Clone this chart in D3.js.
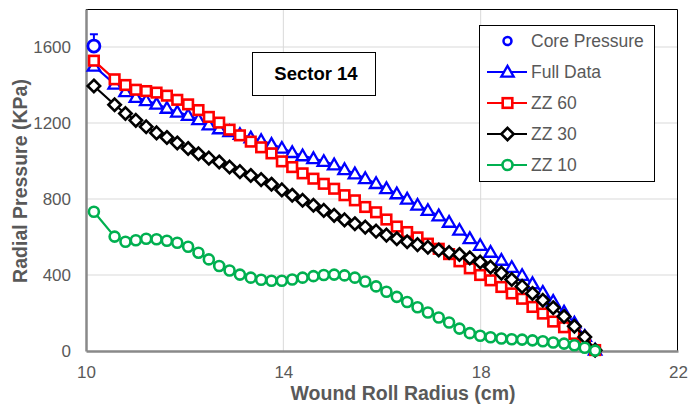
<!DOCTYPE html>
<html><head><meta charset="utf-8">
<script src="https://cdn.jsdelivr.net/npm/d3@7"></script>
<style>body{margin:0;background:#fff}svg{display:block;font-family:"Liberation Sans",Arial,sans-serif}</style>
</head><body>
<script>
const radius = [10.16,10.58,10.80,11.01,11.22,11.43,11.64,11.85,12.07,12.28,12.49,12.70,12.91,13.12,13.34,13.55,13.76,13.97,14.18,14.39,14.61,14.82,15.03,15.24,15.45,15.66,15.88,16.09,16.30,16.51,16.72,16.93,17.15,17.36,17.57,17.78,17.99,18.20,18.42,18.63,18.84,19.05,19.26,19.47,19.69,19.90,20.11,20.32];
const fullData = [1500,1405,1365,1335,1318,1300,1278,1258,1240,1218,1190,1170,1155,1140,1122,1108,1088,1068,1045,1028,1013,998,980,955,933,908,882,855,828,800,768,740,712,678,636,592,556,520,478,440,398,355,310,262,205,148,78,5];
const zz60 = [1528,1430,1400,1375,1368,1360,1344,1322,1298,1268,1232,1202,1165,1135,1102,1072,1040,998,968,935,907,880,854,820,793,758,730,692,655,626,598,565,538,510,472,435,400,372,337,303,275,232,197,155,125,90,50,5];
const zz30 = [1395,1296,1250,1214,1180,1148,1124,1095,1066,1038,1015,995,968,944,924,902,878,848,820,793,767,740,714,690,670,652,631,610,591,575,560,546,532,518,508,490,468,442,410,376,340,303,267,228,182,130,74,4];
const zz10 = [733,602,575,583,591,588,580,570,549,517,482,447,424,402,386,375,370,370,376,386,394,400,402,398,386,366,340,312,285,258,230,203,176,150,118,94,80,72,66,62,60,56,51,45,39,30,17,2];
const corePressure = {r: 10.16, p: 1605, err: 62};
const xTicks = [10,14,18,22];
const yTicks = [0,400,800,1200,1600];
const seriesNames = ["Core Pressure","Full Data","ZZ 60","ZZ 30","ZZ 10"];

const W=689,H=404;
const svg=d3.select("body").append("svg").attr("width",W).attr("height",H);
const x=d3.scaleLinear().domain([10,22]).range([86,678]);
const y=d3.scaleLinear().domain([0,1800]).range([351,9]);
const grey="#595959";
const FF="Liberation Sans, Arial, sans-serif";

// gridlines
svg.append("g").selectAll("line").data(yTicks.filter(d=>d>0)).join("line")
 .attr("x1",x(10)).attr("x2",x(22)).attr("y1",d=>y(d)).attr("y2",d=>y(d))
 .attr("stroke","#d9d9d9").attr("stroke-width",1);
svg.append("g").selectAll("line").data(xTicks.filter(d=>d>10&&d<22)).join("line")
 .attr("x1",d=>x(d)).attr("x2",d=>x(d)).attr("y1",y(0)).attr("y2",y(1800))
 .attr("stroke","#d9d9d9").attr("stroke-width",1);
// frame top/right
svg.append("path").attr("d",`M${x(10)},${y(1800)+0.5}H${x(22)-0.5}V${y(0)}`).attr("fill","none").attr("stroke","#000").attr("stroke-width",1);

// axes
const xAxis=d3.axisBottom(x).tickValues(xTicks).tickSize(0).tickPadding(15).tickFormat(d3.format("d"));
const gx=svg.append("g").attr("transform",`translate(0,${y(0)})`).call(xAxis);
gx.select(".domain").attr("stroke","#898989").attr("stroke-width",2.5);
gx.selectAll("text").attr("fill",grey).attr("font-size",17).attr("font-family",FF);
const yAxis=d3.axisLeft(y).tickValues(yTicks).tickSize(0).tickPadding(15).tickFormat(d3.format("d"));
const gy=svg.append("g").attr("transform",`translate(${x(10)},0)`).call(yAxis);
gy.select(".domain").attr("stroke","#898989").attr("stroke-width",2.5);
gy.selectAll("text").attr("fill",grey).attr("font-size",17).attr("font-family",FF);

svg.append("text").attr("x",403).attr("y",400).attr("text-anchor","middle").attr("font-weight","bold").attr("font-size",19.5).attr("fill",grey).text("Wound Roll Radius (cm)");
svg.append("text").attr("transform","translate(27,181) rotate(-90)").attr("text-anchor","middle").attr("font-weight","bold").attr("font-size",19.5).attr("fill",grey).text("Radial Pressure (KPa)");

// marker drawing
function marker(g,type,color,cx,cy){
  if(type==="tri"){
    g.append("path").attr("d",d3.symbol(d3.symbolTriangle,66)()).attr("transform",`translate(${cx},${cy+1})`).attr("fill","#fff").attr("stroke",color).attr("stroke-width",2.3);
  } else if(type==="sq"){
    g.append("rect").attr("x",cx-4.8).attr("y",cy-4.8).attr("width",9.6).attr("height",9.6).attr("fill","#fff").attr("stroke",color).attr("stroke-width",2.6);
  } else if(type==="dia"){
    g.append("path").attr("d",`M${cx},${cy-6.2}L${cx+6.2},${cy}L${cx},${cy+6.2}L${cx-6.2},${cy}Z`).attr("fill","#fff").attr("stroke",color).attr("stroke-width",2.6);
  } else {
    g.append("circle").attr("cx",cx).attr("cy",cy).attr("r",5).attr("fill","#fff").attr("stroke",color).attr("stroke-width",2.6);
  }
}
const series=[
 {name:"Full Data",vals:fullData,color:"#0000ff",type:"tri"},
 {name:"ZZ 60",vals:zz60,color:"#ff0000",type:"sq"},
 {name:"ZZ 30",vals:zz30,color:"#000000",type:"dia"},
 {name:"ZZ 10",vals:zz10,color:"#00b050",type:"circ"}
];
const line=d3.line().x(d=>x(d[0])).y(d=>y(d[1]));
series.forEach(s=>{
  const pts=radius.map((r,i)=>[r,s.vals[i]]);
  const g=svg.append("g");
  g.append("path").attr("d",line(pts)).attr("fill","none").attr("stroke",s.color).attr("stroke-width",2.2);
  pts.forEach(p=>marker(g,s.type,s.color,x(p[0]),y(p[1])));
});
// core pressure with error bar
const cg=svg.append("g");
cg.append("line").attr("x1",x(corePressure.r)).attr("x2",x(corePressure.r)).attr("y1",y(corePressure.p)).attr("y2",y(corePressure.p+corePressure.err)).attr("stroke","#0000ff").attr("stroke-width",2);
cg.append("line").attr("x1",x(corePressure.r)-4).attr("x2",x(corePressure.r)+4).attr("y1",y(corePressure.p+corePressure.err)).attr("y2",y(corePressure.p+corePressure.err)).attr("stroke","#0000ff").attr("stroke-width",2);
cg.append("circle").attr("cx",x(corePressure.r)).attr("cy",y(corePressure.p)).attr("r",6).attr("fill","#fff").attr("stroke","#0000ff").attr("stroke-width",2.8);

// Sector label box
svg.append("rect").attr("x",252.5).attr("y",52.5).attr("width",123).attr("height",43).attr("fill","#fff").attr("stroke","#000");
svg.append("text").attr("x",316).attr("y",80).attr("text-anchor","middle").attr("font-weight","bold").attr("font-size",18.5).attr("fill","#000").text("Sector 14");

// legend
const lg=svg.append("g");
lg.append("rect").attr("x",479.5).attr("y",25.5).attr("width",175).attr("height",156).attr("fill","#fff").attr("stroke","#000");
const legendItems=[{type:"core",color:"#0000ff"},...series];
legendItems.forEach((s,i)=>{
  const cy=41+i*31;
  if(s.type!=="core"){
    lg.append("line").attr("x1",487).attr("x2",527).attr("y1",cy).attr("y2",cy).attr("stroke",s.color).attr("stroke-width",2.2);
    marker(lg,s.type,s.color,507.5,cy);
  } else {
    lg.append("circle").attr("cx",507.5).attr("cy",cy).attr("r",4).attr("fill","#fff").attr("stroke",s.color).attr("stroke-width",2.5);
  }
  lg.append("text").attr("x",531).attr("y",cy+6).attr("font-size",17.5).attr("fill",grey).text(seriesNames[i]);
});
</script>
</body></html>
